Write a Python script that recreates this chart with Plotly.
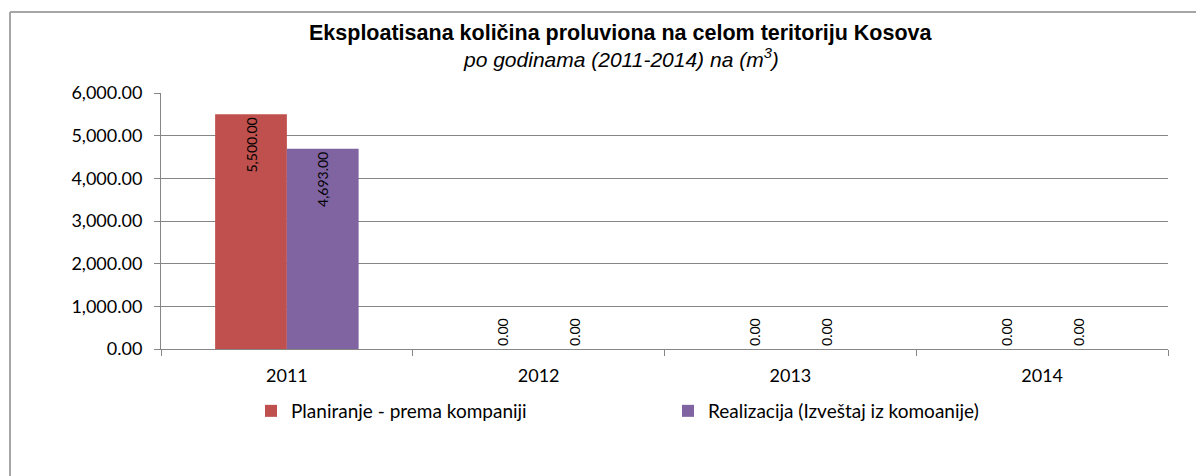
import plotly.graph_objects as go

years = ["2011", "2012", "2013", "2014"]
planiranje = [5500.0, 0.0, 0.0, 0.0]
realizacija = [4693.0, 0.0, 0.0, 0.0]
series_names = ["Planiranje - prema kompaniji", "Realizacija (Izveštaj iz komoanije)"]
y_ticks = [0, 1000, 2000, 3000, 4000, 5000, 6000]

colors = ["#C0504D", "#8064A2"]
OFF = 8  # default page body margin
W, H = 1204 - OFF, 476 - OFF
# plot area in page pixels: x 161..1168, y 93..349
L, T = 161 - OFF, 93 - OFF
R = W - (1168 - OFF)
B = H - (349 - OFF)
pw, ph = W - L - R, H - T - B
FONT = "Lato, Liberation Sans, sans-serif"

def px_x(p):
    return (p - OFF - L) / pw

def px_y(p):
    return (H - B - (p - OFF)) / ph

fig = go.Figure()
for name, vals, col in zip(series_names, [planiranje, realizacija], colors):
    fig.add_trace(go.Bar(
        x=years, y=vals, name=name,
        marker=dict(color=col, line=dict(width=0)),
        text=[f"{v:,.2f}" for v in vals],
        textangle=-90,
        textposition=["inside" if v > 0 else "outside" for v in vals],
        insidetextanchor="end",
        textfont=dict(family=FONT, size=14, color="#000000"),
        outsidetextfont=dict(family=FONT, size=14, color="#000000"),
        insidetextfont=dict(family=FONT, size=14, color="#000000"),
        cliponaxis=False,
    ))

fig.update_layout(
    width=W, height=H,
    margin=dict(l=L, r=R, t=T, b=B, autoexpand=False),
    paper_bgcolor="white", plot_bgcolor="white",
    barmode="group", bargap=0.43, bargroupgap=0,
    font=dict(family=FONT, size=18, color="#000000"),
    showlegend=True,
    legend=dict(orientation="h", x=px_x(251), y=px_y(392), xanchor="left", yanchor="top",
                entrywidth=372, entrywidthmode="pixels",
                font=dict(family=FONT, size=19, color="#000000"),
                traceorder="normal"),
)
fig.update_xaxes(
    automargin=False,
    showgrid=False, showline=True, linecolor="#868686", linewidth=1,
    ticks="outside", tickson="boundaries", ticklen=6, tickcolor="#868686",
    ticklabelstandoff=10,
    tickfont=dict(family=FONT, size=18, color="#000000"),
)
fig.update_yaxes(
    automargin=False,
    range=[0, 6000], tickvals=y_ticks, tickformat=",.2f",
    showgrid=True, gridcolor="#868686", gridwidth=1,
    showline=True, linecolor="#868686", linewidth=1,
    ticks="outside", ticklen=6, tickcolor="#868686",
    ticklabelstandoff=8,
    tickfont=dict(family=FONT, size=18, color="#000000"), zeroline=False,
)

# Chart-area border (Excel style), left and top edges visible
fig.add_shape(type="line", xref="paper", yref="paper",
              x0=px_x(10), x1=px_x(1210), y0=px_y(12), y1=px_y(12),
              line=dict(color="#A6A6A6", width=2))
fig.add_shape(type="line", xref="paper", yref="paper",
              x0=px_x(10), x1=px_x(10), y0=px_y(12), y1=px_y(480),
              line=dict(color="#A6A6A6", width=2))

# Title
fig.add_annotation(xref="paper", yref="paper", x=px_x(621), y=px_y(33),
                   text="<b>Eksploatisana količina proluviona na celom teritoriju Kosova</b>",
                   showarrow=False, xanchor="center", yanchor="middle",
                   font=dict(family="Liberation Sans, Arial, sans-serif", size=21.5, color="#000000"))
fig.add_annotation(xref="paper", yref="paper", x=px_x(621), y=px_y(58),
                   text="<i>po godinama (2011-2014) na (m<sup>3</sup>)</i>",
                   showarrow=False, xanchor="center", yanchor="middle",
                   font=dict(family="Liberation Sans, Arial, sans-serif", size=21, color="#000000"))

fig.write_html("out.html")
